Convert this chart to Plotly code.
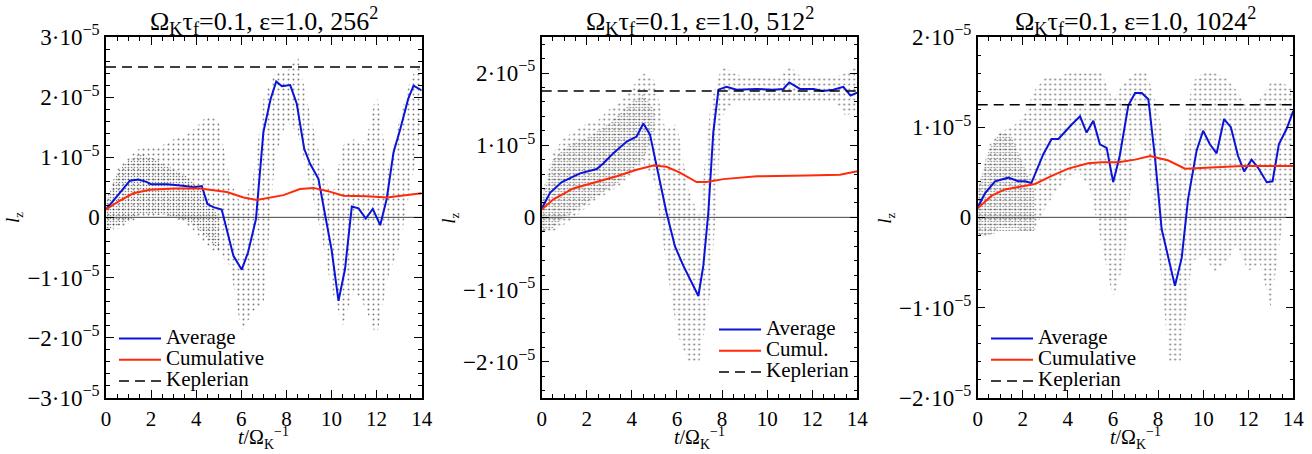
import plotly.graph_objects as go

# ---------------- data (l_z in units of 1e-5) ----------------
titles = ["Ω<sub>K</sub>τ<sub>f</sub>=0.1, ε=1.0, 256<sup>2</sup>",
          "Ω<sub>K</sub>τ<sub>f</sub>=0.1, ε=1.0, 512<sup>2</sup>",
          "Ω<sub>K</sub>τ<sub>f</sub>=0.1, ε=1.0, 1024<sup>2</sup>"]
cum_names = ["Cumulative", "Cumul.", "Cumulative"]
keplerian = [2.5, 1.75, 1.25]
y_ranges = [3.0, 2.5, 2.0]

x_ticks = [0, 2, 4, 6, 8, 10, 12, 14]

# Average (blue)
avg1_t = [0, 1.06, 1.43, 1.8, 2.0, 2.7, 3.3, 3.9, 4.25, 4.5, 4.76, 5.13, 5.65, 6.02, 6.3, 6.65, 6.98,
          7.3, 7.55, 7.8, 8.17, 8.46, 8.79, 9.05, 9.42, 9.72, 10.0, 10.31, 10.6, 10.9, 11.2, 11.52,
          11.83, 12.16, 12.45, 12.75, 13.05, 13.4, 13.64, 14.0]
avg1_v = [0.13, 0.61, 0.63, 0.59, 0.55, 0.55, 0.53, 0.50, 0.52, 0.22, 0.17, 0.13, -0.64, -0.87, -0.58,
          -0.03, 1.42, 1.97, 2.26, 2.18, 2.20, 1.89, 1.14, 0.89, 0.64, 0.03, -0.53, -1.39, -0.86, 0.18,
          0.15, -0.02, 0.14, -0.13, 0.31, 1.08, 1.47, 1.97, 2.19, 2.11]
avg2_t = [0, 0.37, 0.89, 1.7, 2.44, 2.74, 3.18, 3.77, 4.21, 4.51, 4.8, 5.1, 5.54, 5.91, 6.28, 6.95,
          7.17, 7.39, 7.61, 7.84, 8.2, 8.65, 9.54, 10.27, 10.72, 10.98, 11.46, 12.05, 12.49, 12.94,
          13.38, 13.7, 14.0]
avg2_v = [0.12, 0.34, 0.49, 0.61, 0.67, 0.75, 0.89, 1.05, 1.12, 1.30, 1.15, 0.71, 0.06, -0.40, -0.67,
          -1.09, -0.67, 0.06, 1.17, 1.77, 1.81, 1.77, 1.78, 1.77, 1.78, 1.87, 1.78, 1.78, 1.75, 1.77,
          1.81, 1.69, 1.73]
avg3_t = [0, 0.33, 0.77, 1.36, 1.8, 2.1, 2.38, 2.91, 3.28, 3.58, 4.17, 4.54, 4.83, 5.13, 5.42, 5.72,
          6.01, 6.3, 6.68, 6.98, 7.28, 7.57, 7.87, 8.16, 8.46, 8.75, 9.05, 9.33, 9.71, 10.0, 10.3,
          10.6, 10.93, 11.23, 11.55, 11.82, 12.15, 12.44, 12.82, 13.08, 13.36, 13.7, 14.0]
avg3_v = [0.11, 0.27, 0.40, 0.44, 0.40, 0.40, 0.38, 0.70, 0.87, 0.87, 1.03, 1.12, 0.94, 1.07, 0.81,
          0.77, 0.39, 0.68, 1.24, 1.38, 1.38, 1.31, 0.65, -0.13, -0.45, -0.76, -0.45, 0.2, 0.74, 0.96,
          0.81, 0.71, 1.09, 1.0, 0.68, 0.51, 0.64, 0.55, 0.39, 0.40, 0.81, 0.98, 1.18]

# Cumulative (red)
cum1_t = [0, 0.62, 1.21, 1.95, 3.0, 4.17, 5.36, 6.1, 6.69, 7.13, 7.87, 8.6, 9.2, 9.8, 10.53, 11.57, 12.46, 14.0]
cum1_v = [0.13, 0.28, 0.40, 0.46, 0.48, 0.48, 0.42, 0.33, 0.29, 0.32, 0.37, 0.47, 0.49, 0.44, 0.36, 0.35, 0.33, 0.40]
cum2_t = [0, 0.52, 1.4, 2.44, 3.33, 4.21, 4.95, 5.54, 6.13, 6.87, 7.32, 8.06, 9.54, 11.75, 13.23, 14.0]
cum2_v = [0.11, 0.25, 0.40, 0.49, 0.57, 0.66, 0.72, 0.70, 0.62, 0.49, 0.49, 0.53, 0.57, 0.58, 0.59, 0.64]
cum3_t = [0, 0.62, 1.21, 1.8, 2.54, 3.28, 4.02, 4.9, 5.5, 6.24, 6.98, 7.65, 8.46, 9.2, 10.27, 11.75, 14.0]
cum3_v = [0.10, 0.24, 0.31, 0.34, 0.37, 0.46, 0.54, 0.60, 0.61, 0.61, 0.64, 0.68, 0.63, 0.54, 0.55, 0.57, 0.57]

# particle cloud envelopes
env_t = [0, .5, 1, 1.5, 2, 2.5, 3, 3.5, 4, 4.5, 5, 5.5, 6, 6.5, 7, 7.5, 8, 8.5, 9, 9.5,
         10, 10.5, 11, 11.5, 12, 12.5, 13, 13.5, 14]
halo1_lo = [-0.2, -0.2, -0.1, 0.0, 0.0, 0.05, 0.0, -0.1, -0.25, -0.5, -0.6, -0.8, -1.9, -1.6, -1.4, 1.0,
            1.6, 1.4, 0.6, -0.2, -1.2, -1.8, -1.2, -1.5, -2.0, -1.0, -0.5, 0.5, 1.5]
halo1_hi = [0.3, 0.8, 1.0, 1.15, 1.15, 1.2, 1.3, 1.35, 1.5, 1.7, 1.6, 0.6, 0.2, 0.6, 2.0, 2.4, 2.4, 2.7,
            1.8, 1.0, 0.3, 1.2, 1.3, 1.2, 2.1, 0.8, 1.6, 2.3, 2.6]
halo2_lo = [-0.2, -0.2, -0.1, 0.0, 0.15, 0.25, 0.35, 0.45, 0.6, 0.75, 0.5, -0.6, -1.6, -2.0, -2.0, -1.0,
            1.4, 1.6, 1.6, 1.6, 1.6, 1.6, 1.6, 1.6, 1.6, 1.6, 1.6, 1.4, 1.5]
halo2_hi = [0.3, 0.9, 1.1, 1.2, 1.3, 1.35, 1.5, 1.6, 1.8, 2.0, 1.9, 1.2, 1.3, 0.4, 0.0, 1.6, 2.1, 2.0,
            1.95, 1.95, 1.95, 1.95, 2.1, 1.95, 1.95, 1.95, 1.95, 2.0, 2.1]
halo3_lo = [-0.2, -0.2, -0.1, -0.1, -0.15, -0.15, 0.1, 0.3, 0.45, 0.5, 0.3, -0.3, -0.9, -0.5, 0.9, 0.7,
            -0.3, -1.6, -1.6, -0.5, -0.4, -0.6, -0.5, -0.3, -0.6, -0.5, -1.0, -0.1, 0.3]
halo3_hi = [0.3, 0.8, 0.95, 1.0, 1.1, 1.4, 1.55, 1.55, 1.6, 1.6, 1.6, 1.6, 1.3, 1.5, 1.6, 1.6, 1.2, 0.5,
            0.5, 1.5, 1.6, 1.6, 1.55, 1.4, 1.2, 1.3, 1.5, 1.5, 1.4]

core1_t = [0, .5, 1, 1.5, 2, 2.5, 3, 3.5, 4, 4.5, 5]
core1_lo = [-0.2, -0.15, -0.05, 0.05, 0.05, 0.05, 0.0, -0.05, -0.15, -0.35, -0.55]
core1_hi = [0.25, 0.75, 0.95, 1.05, 1.0, 0.9, 0.8, 0.7, 0.55, 0.3, 0.0]
core2_t = [0, .5, 1, 1.5, 2, 2.5, 3, 3.5, 4, 4.5, 5]
core2_lo = [-0.2, -0.15, 0.0, 0.1, 0.2, 0.3, 0.4, 0.5, 0.65, 0.8, 1.2]
core2_hi = [0.25, 0.8, 0.95, 1.05, 1.1, 1.2, 1.3, 1.45, 1.6, 1.7, 1.5]
core3_t = [0, .5, 1, 1.5, 2, 2.5]
core3_lo = [-0.2, -0.2, -0.15, -0.15, -0.15, -0.15]
core3_hi = [0.3, 0.75, 0.95, 0.9, 0.6, 0.3]

# ---------------- figure ----------------
W, H = 1312, 454
x_dom = [(106, 421.7), (541.7, 857.3), (977.7, 1293.3)]
y_top, y_bot = 37, 397.7
legend_pos = [(114, 323), (714, 314), (986, 323)]

panels = [
    (avg1_t, avg1_v, cum1_t, cum1_v, halo1_lo, halo1_hi, core1_t, core1_lo, core1_hi),
    (avg2_t, avg2_v, cum2_t, cum2_v, halo2_lo, halo2_hi, core2_t, core2_lo, core2_hi),
    (avg3_t, avg3_v, cum3_t, cum3_v, halo3_lo, halo3_hi, core3_t, core3_lo, core3_hi),
]

fig = go.Figure()
FONT = "Liberation Serif"
TITLE_SIZE, YTICK_SIZE, XTICK_SIZE, XLABEL_SIZE, YLABEL_SIZE, LEG_SIZE = 26, 23, 21, 20, 19, 21
annotations = []


def sized(s, px):
    return f'<span style="font-size:{px}px">{s}</span>'


for i, (at, av, ct, cv, hlo, hhi, kt, klo, khi) in enumerate(panels):
    xa = "x" if i == 0 else f"x{i+1}"
    ya = "y" if i == 0 else f"y{i+1}"
    lg = "legend" if i == 0 else f"legend{i+1}"
    # sparse halo of particles
    fig.add_trace(go.Scatter(
        x=env_t + env_t[::-1], y=hhi + hlo[::-1], xaxis=xa, yaxis=ya,
        fill="toself", mode="none", fillcolor="rgba(0,0,0,0)",
        fillpattern=dict(shape=".", fgcolor="black", bgcolor="rgba(0,0,0,0)", size=5, solidity=0.12),
        showlegend=False, hoverinfo="skip"))
    # dense core of particles
    fig.add_trace(go.Scatter(
        x=kt + kt[::-1], y=khi + klo[::-1], xaxis=xa, yaxis=ya,
        fill="toself", mode="none", fillcolor="rgba(0,0,0,0)",
        fillpattern=dict(shape=".", fgcolor="black", bgcolor="rgba(0,0,0,0)", size=3, solidity=0.22),
        showlegend=False, hoverinfo="skip"))
    # zero line
    fig.add_trace(go.Scatter(x=[0, 14], y=[0, 0], xaxis=xa, yaxis=ya, mode="lines",
                             line=dict(color="#444444", width=1), showlegend=False, hoverinfo="skip"))
    fig.add_trace(go.Scatter(x=at, y=av, xaxis=xa, yaxis=ya, mode="lines",
                             name=sized("Average", LEG_SIZE),
                             line=dict(color="#0a14d8", width=2), legend=lg))
    fig.add_trace(go.Scatter(x=ct, y=cv, xaxis=xa, yaxis=ya, mode="lines",
                             name=sized(cum_names[i], LEG_SIZE),
                             line=dict(color="#ff2a0a", width=2), legend=lg))
    fig.add_trace(go.Scatter(x=[0, 14], y=[keplerian[i]] * 2, xaxis=xa, yaxis=ya, mode="lines",
                             name=sized("Keplerian", LEG_SIZE),
                             line=dict(color="black", width=1.5, dash="10px,6px"), legend=lg))

    d0, d1 = x_dom[i]
    r = y_ranges[i]
    yt = [v for v in range(-3, 4) if abs(v) <= r + 1e-9]
    ytxt = []
    for v in yt:
        if v == 0:
            ytxt.append("0")
        elif v > 0:
            ytxt.append(f"{v}·10<sup>−5</sup>")
        else:
            ytxt.append(f"−{-v}·10<sup>−5</sup>")
    axis_common = dict(showline=True, linecolor="black", linewidth=1.5, mirror="allticks",
                       ticks="inside", tickcolor="black", tickwidth=1, showgrid=False, zeroline=False,
                       automargin=False)
    fig.layout[f"xaxis{'' if i == 0 else i+1}"] = dict(
        domain=[d0 / W, d1 / W], range=[0, 14], anchor=ya, tickvals=x_ticks, ticklen=8,
        tickfont=dict(family=FONT, size=XTICK_SIZE, color="black"), ticklabelstandoff=1,
        minor=dict(ticks="inside", dtick=0.5, tick0=0, ticklen=4, tickcolor="black"),
        **axis_common)
    fig.layout[f"yaxis{'' if i == 0 else i+1}"] = dict(
        domain=[1 - y_bot / H, 1 - y_top / H], range=[-r, r], anchor=xa, tickvals=yt, ticktext=ytxt,
        tickfont=dict(family=FONT, size=YTICK_SIZE, color="black"), ticklabelstandoff=0,
        ticklen=8, minor=dict(ticks="inside", dtick=0.2, tick0=0, ticklen=4, tickcolor="black"),
        **axis_common)
    lx, ly = legend_pos[i]
    fig.layout[lg] = dict(x=lx / W, y=1 - ly / H, xanchor="left", yanchor="top",
                          bgcolor="rgba(0,0,0,0)", borderwidth=0, itemwidth=42,
                          font=dict(family=FONT, size=14, color="black"), tracegroupgap=0)
    cx = (d0 + d1) / 2 / W
    annotations.append(dict(text=titles[i], x=cx, y=1 - 1 / H, xref="paper", yref="paper",
                            xanchor="center", yanchor="top", showarrow=False,
                            font=dict(family=FONT, size=TITLE_SIZE, color="black")))
    annotations.append(dict(text="<i>t</i>/Ω<sub>K</sub><sup>−1</sup>", x=cx, y=0, xref="paper",
                            yref="paper", xanchor="center", yanchor="bottom",
                            showarrow=False, font=dict(family=FONT, size=XLABEL_SIZE, color="black")))
    annotations.append(dict(text="<i>l</i><sub>z</sub>", x=(d0 - 92) / W, y=1 - 218 / H,
                            xref="paper", yref="paper", xanchor="center", yanchor="middle",
                            showarrow=False, textangle=-90,
                            font=dict(family=FONT, size=YLABEL_SIZE, color="black")))

fig.update_layout(width=W, height=H, margin=dict(l=0, r=0, t=0, b=0, autoexpand=False),
                  paper_bgcolor="white", plot_bgcolor="white", annotations=annotations,
                  font=dict(family=FONT, size=19, color="black"))

fig.write_html("out.html", post_script="document.body.style.margin='0';",
               config={"displayModeBar": False})
